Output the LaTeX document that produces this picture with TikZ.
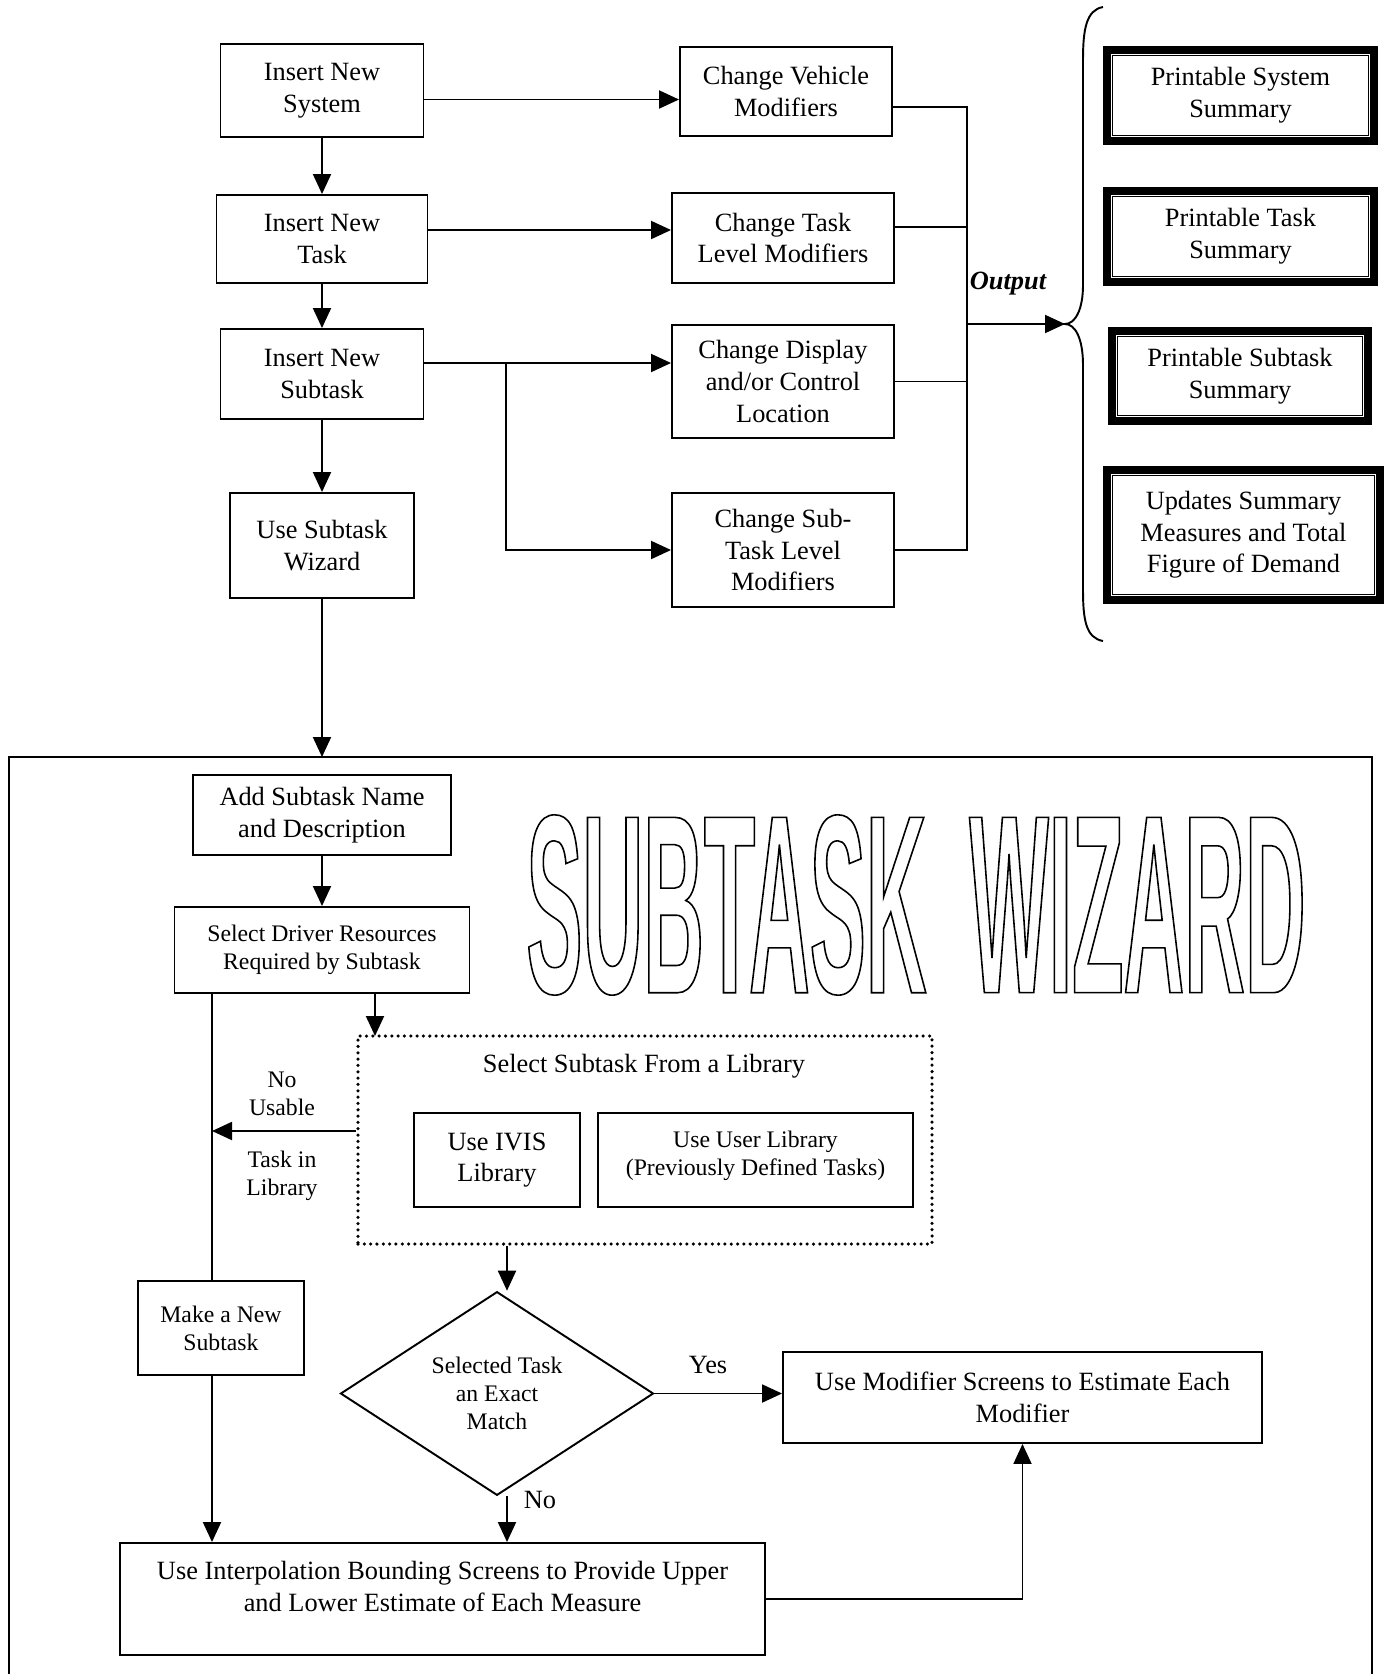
\documentclass[tikz,border=0pt]{standalone}
\usepackage{fontspec}
\setmainfont{Liberation Serif}
\newfontfamily\wizfont{Liberation Sans Bold}[FakeStretch=0.33]
\usetikzlibrary{arrows.meta, positioning, shapes.geometric, calc}

\begin{document}
\begin{tikzpicture}[>={Triangle[length=0.4cm,width=0.36cm]}, line width=1.1pt,
  every node/.style={font=\fontsize{15}{18}\selectfont, align=center},
  box/.style={draw, inner sep=2pt},
  small/.style={font=\fontsize{13.5}{16}\selectfont},
  outbox/.style={draw, line width=0.15cm, inner sep=2pt},
  dotbox/.style={draw, line width=2pt, line cap=round, dash pattern=on 0pt off 3.6pt},
  outline/.style={inner sep=0pt, font=\wizfont\fontsize{145}{150}\selectfont}]
  \useasboundingbox (0,0) rectangle (27.7,-33.48);

  % main column
  \node[box, minimum width=4.06cm, minimum height=1.86cm] (insys) at (6.44,-1.81) {Insert New\\System};
  \node[box, minimum width=4.22cm, minimum height=1.76cm] (intask) at (6.44,-4.78) {Insert New\\Task};
  \node[box, minimum width=4.06cm, minimum height=1.80cm] (insub) at (6.44,-7.48) {Insert New\\Subtask};
  \node[box, minimum width=3.68cm, minimum height=2.10cm] (wiz) at (6.44,-10.91) {Use Subtask\\Wizard};

  % modifier column
  \node[box, minimum width=4.24cm, minimum height=1.78cm] (chveh) at (15.72,-1.83) {Change Vehicle\\Modifiers};
  \node[box, minimum width=4.44cm, minimum height=1.80cm] (chtask) at (15.66,-4.76) {Change Task\\Level Modifiers};
  \node[box, minimum width=4.44cm, minimum height=2.26cm] (chdisp) at (15.66,-7.63) {Change Display\\and/or Control\\Location};
  \node[box, minimum width=4.44cm, minimum height=2.28cm] (chsub) at (15.66,-11.0) {Change Sub-\\Task Level\\Modifiers};

  % outputs
  \node[outbox, minimum width=5.35cm, minimum height=1.83cm] (psys) at (24.81,-1.91) {Printable System\\Summary};
  \node[outbox, minimum width=5.35cm, minimum height=1.83cm] (ptask) at (24.81,-4.73) {Printable Task\\Summary};
  \node[outbox, minimum width=5.13cm, minimum height=1.81cm] (psub) at (24.80,-7.52) {Printable Subtask\\Summary};
  \node[outbox, minimum width=5.47cm, minimum height=2.61cm] (pupd) at (24.87,-10.70) {Updates Summary\\Measures and Total\\Figure of Demand};
  \foreach \n in {psys, ptask, psub, pupd}
    \draw[line width=0.45pt, double, double distance=0.7pt]
      ([shift={(0.17,-0.17)}]\n.north west) rectangle ([shift={(-0.17,0.17)}]\n.south east);

  \draw[->] (insys) -- (intask);
  \draw[->] (intask) -- (insub);
  \draw[->] (insub) -- (wiz);
  \draw[->] ([yshift=-0.18cm]insys.east) -- ([yshift=-0.18cm]insys.east -| chveh.west);
  \draw[->] ([yshift=0.18cm]intask.east) -- ([yshift=0.18cm]intask.east -| chtask.west);
  \draw[->] ([yshift=0.22cm]insub.east) -- ([yshift=0.22cm]insub.east -| chdisp.west)
    coordinate[pos=0.33] (br);
  \draw[->] (br) |- (chsub.west);

  % collector and brace
  \coordinate (col) at (19.34,-6.48);
  \coordinate (tip) at (21.3,-6.48);
  \draw ([yshift=-0.31cm]chveh.east) -| (col |- chsub.east) -- (chsub.east);
  \draw ([yshift=0.22cm]chtask.east) -- ([yshift=0.22cm]chtask.east -| col);
  \draw (chdisp.east) -- (chdisp.east -| col);
  \draw[->] (col) -- (tip);
  \node[font=\bfseries\itshape\fontsize{15}{18}\selectfont] (outlbl) at (20.16,-5.68) {Output};
  \draw (22.06,-0.14) .. controls (21.72,-0.2) and (21.66,-0.6) .. (21.66,-1.2) -- (21.66,-5.7)
    .. controls (21.66,-6.2) and (21.5,-6.48) .. (tip)
    .. controls (21.5,-6.48) and (21.66,-6.76) .. (21.66,-7.3) -- (21.66,-11.8)
    .. controls (21.66,-12.4) and (21.72,-12.76) .. (22.06,-12.82);

  % subtask wizard
  \coordinate (frtop) at (0.18,-15.14);
  \draw (0.18,-33.7) |- (27.44,-15.14) -- (27.44,-33.7);
  \draw[->] (wiz) -- (wiz |- frtop);
  \node[outline] (wordA) at (14.53,-18.1) {\special{pdf:literal direct 1 Tr 0.9 w}SUBTASK\special{pdf:literal direct 0 Tr}};
  \node[outline] (wordB) at (22.75,-18.1) {\special{pdf:literal direct 1 Tr 0.9 w}WIZARD\special{pdf:literal direct 0 Tr}};

  \node[box, minimum width=5.16cm, minimum height=1.60cm] (addname) at (6.44,-16.30) {Add Subtask Name\\and Description};
  \node[box, small, minimum width=5.90cm, minimum height=1.72cm] (seldrv) at (6.44,-19.0) {Select Driver Resources\\Required by Subtask};
  \node[dotbox, minimum width=11.48cm, minimum height=4.16cm] (libbox) at (12.9,-22.8) {};
  \node (libttl) at (12.88,-21.32) {Select Subtask From a Library};
  \node[box, minimum width=3.32cm, minimum height=1.88cm] (ivis) at (9.94,-23.2) {Use IVIS\\Library};
  \node[box, small, minimum width=6.30cm, minimum height=1.88cm] (userlib) at (15.11,-23.2) {Use User Library\\(Previously Defined Tasks)\\[-0.3cm]\mbox{}};
  \node[box, small, minimum width=3.32cm, minimum height=1.88cm] (makenew) at (4.42,-26.56) {Make a New\\Subtask};
  \node[draw, diamond, small, inner sep=0pt, minimum width=6.26cm, minimum height=3.74cm] (diam) at (9.94,-27.87) {Selected Task\\an Exact\\Match};
  \node[box, minimum width=9.58cm, minimum height=1.82cm] (usemod) at (20.45,-27.95) {Use Modifier Screens to Estimate Each\\Modifier};
  \node[box, minimum width=12.90cm, minimum height=2.24cm] (interp) at (8.85,-31.98) {Use Interpolation Bounding Screens to Provide Upper\\and Lower Estimate of Each Measure\\[-0.12cm]\mbox{}};
  \node[small] (nouse) at (5.64,-21.88) {No\\Usable};
  \node[small] (taskin) at (5.64,-23.52) {Task in\\Library};

  \coordinate (leftx) at (4.24,0);
  \coordinate (dmx) at (10.14,0);
  \coordinate (dotin) at (7.5,-20.72);
  \draw[->] (addname) -- (seldrv);
  \draw (seldrv.south -| leftx) -- (makenew.north -| leftx);
  \draw[->] (makenew.south -| leftx) -- (interp.north -| leftx);
  \draw[->] (seldrv.south -| dotin) -- (dotin);
  \draw[->] ([yshift=0.18cm]libbox.west) -- ([yshift=0.18cm]libbox.west -| leftx);
  \draw[->] (libbox.south -| dmx) -- (diam.north -| dmx);
  \draw[->] (diam.east) -- (diam.east -| usemod.west) node[pos=0.42, above=0.25cm] (yes) {Yes};
  \draw[->] (diam.south -| dmx) -- (interp.north -| dmx) node[pos=0.08, right=0.2cm] (no) {No};
  \draw[->] (interp.east) -| (usemod.south);
\end{tikzpicture}
\end{document}
